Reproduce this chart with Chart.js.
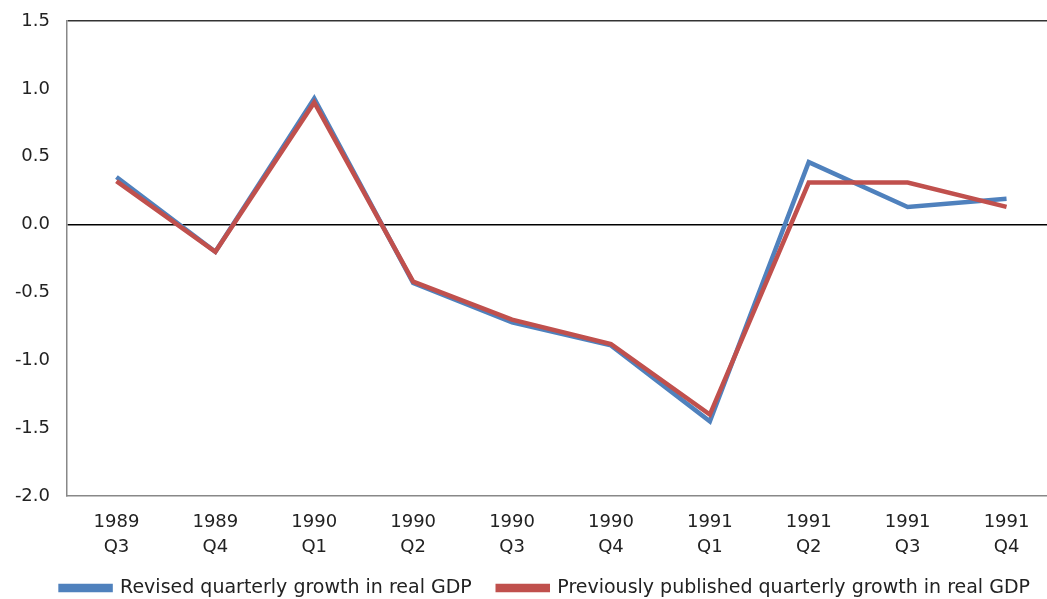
<!DOCTYPE html>
<html>
<head>
<meta charset="utf-8">
<script src="https://cdn.jsdelivr.net/npm/chart.js@4"></script>
<style>
  html, body { margin: 0; padding: 0; background: #fff; overflow: hidden; }
  #wrap { width: 1060px; height: 599px; }
</style>
</head>
<body>
<div id="wrap"><canvas id="GraficaCanvas"></canvas></div>
<script>
const categorias = [
  ["1989", "Q3"], ["1989", "Q4"], ["1990", "Q1"], ["1990", "Q2"], ["1990", "Q3"],
  ["1990", "Q4"], ["1991", "Q1"], ["1991", "Q2"], ["1991", "Q3"], ["1991", "Q4"],
];
const revisado = [0.35, -0.2, 0.93, -0.43, -0.72, -0.89, -1.45, 0.46, 0.13, 0.19];
const publicado = [0.32, -0.2, 0.90, -0.42, -0.70, -0.88, -1.40, 0.31, 0.31, 0.13];

const fuente = "'DejaVu Sans', Verdana, sans-serif";
Chart.defaults.font.family = fuente;
Chart.defaults.color = "#222";

// sube un poco la leyenda (solo el borde de arriba, para no recortar el texto)
const subirLeyenda = {
  id: "subirLeyenda",
  afterLayout(chart) {
    chart.legend.top -= 5.5;
  },
};

const ctx = document.getElementById("GraficaCanvas").getContext("2d");

new Chart(ctx, {
  type: "line",
  data: {
    labels: categorias,
    datasets: [
      {
        label: "Previously published quarterly growth in real GDP",
        data: publicado,
        borderColor: "#C0504D",
        backgroundColor: "#C0504D",
        borderWidth: 4.5,
        pointRadius: 0,
        tension: 0,
      },
      {
        label: "Revised quarterly growth in real GDP",
        data: revisado,
        borderColor: "#4F81BD",
        backgroundColor: "#4F81BD",
        borderWidth: 4.5,
        pointRadius: 0,
        tension: 0,
      },
    ],
  },
  options: {
    responsive: true,
    maintainAspectRatio: false,
    animation: false,
    layout: { padding: { top: 21, left: 0, right: 4, bottom: 0 } },
    scales: {
      x: {
        offset: true,
        afterFit: (s) => { s.height = 62; },
        grid: { display: false, drawTicks: false },
        border: { display: true, color: "#888", width: 1.5 },
        ticks: { font: { size: 18, lineHeight: 1.4 }, padding: 14, maxRotation: 0, autoSkip: false },
      },
      y: {
        min: -2,
        max: 1.5,
        afterFit: (s) => { s.width = 67; },
        border: { display: true, color: "#888", width: 1.5 },
        grid: {
          drawTicks: true,
          tickLength: 15,
          tickColor: "rgba(0,0,0,0)",
          lineWidth: 1.5,
          color: (c) => {
            if (c.tick.value === 0) return "#000";
            if (c.tick.value === 1.5) return "#333";
            return "rgba(0,0,0,0)";
          },
        },
        ticks: {
          stepSize: 0.5,
          font: { size: 18 },
          padding: 2,
          callback: (v) => Number(v).toFixed(1),
        },
      },
    },
    plugins: {
      legend: {
        display: true,
        position: "bottom",
        align: "end",
        reverse: true,
        maxHeight: 41,
        labels: {
          boxWidth: 50,
          boxHeight: 4,
          padding: 26,
          font: { size: 19 },
        },
      },
      tooltip: { enabled: false },
    },
  },
  plugins: [subirLeyenda],
});
</script>
</body>
</html>
